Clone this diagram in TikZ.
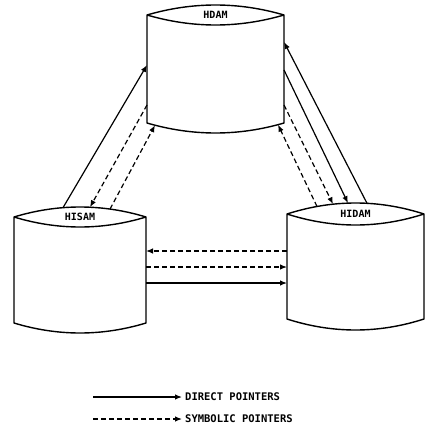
\documentclass[tikz,border=0pt]{standalone}
\usepackage{fontspec}
\usepackage{tikz}
\usetikzlibrary{arrows.meta,calc}
\newfontfamily\ptrfont{DejaVu Sans Mono}

% outline of a data base drum: lens on top, sagging bottom
% #1 node, #2 width, #3 lens half height, #4 bottom sag
\newcommand{\drawdrum}[4]{%
  \draw[drum line] (#1.north west)
    .. controls +(#2/3,-4*#3/3) and +(-#2/3,-4*#3/3) .. (#1.north east)
    .. controls +(-#2/3,4*#3/3) and +(#2/3,4*#3/3) .. (#1.north west)
    -- (#1.south west)
    .. controls +(#2/3,4*#4/3) and +(-#2/3,4*#4/3) .. (#1.south east)
    -- (#1.north east);
}

\begin{document}
\begin{tikzpicture}[
  x=1pt,
  y=-1pt,
  drum/.style={inner sep=0pt, outer sep=0pt},
  drum line/.style={line width=1.4pt, line join=round},
  drum label/.style={font=\ptrfont\bfseries\fontsize{10}{11}\selectfont,
    inner sep=0pt},
  legend text/.style={font=\ptrfont\bfseries\fontsize{10.5}{11}\selectfont,
    anchor=west, inner sep=3pt},
  ptr/.style={line width=1.2pt, -{Latex[length=7pt,width=5.5pt]}},
  sym ptr/.style={ptr, dash pattern=on 5pt off 3pt}
]
  \path[use as bounding box] (0,0) rectangle (430,431);

  % The three data bases.
  \node[drum, minimum width=137pt, minimum height=108pt] (hdam) at (215.5,69) {};
  \drawdrum{hdam}{137}{10}{10}
  \node[drum label] (hdam-label) at (hdam.north) {HDAM};

  \node[drum, minimum width=132pt, minimum height=106pt] (hisam) at (80,270) {};
  \drawdrum{hisam}{132}{10}{10}
  \node[drum label] (hisam-label) at (hisam.north) {HISAM};

  \node[drum, minimum width=137pt, minimum height=105pt] (hidam) at (355.5,266.5) {};
  \drawdrum{hidam}{137}{11}{11}
  \node[drum label] (hidam-label) at (hidam.north) {HIDAM};

  % Pointer ends on the drums.
  \coordinate (hisam-t1) at (63,207.7);
  \coordinate (hisam-t2) at (90,207.2);
  \coordinate (hisam-t3) at (110,209.1);
  \coordinate (hdam-w1) at (147,65);
  \coordinate (hdam-w2) at (147,105);
  \coordinate (hdam-b1) at (155,125.2);
  \coordinate (hdam-e1) at (284,42);
  \coordinate (hdam-e2) at (284,70);
  \coordinate (hdam-e3) at (284,105);
  \coordinate (hdam-b2) at (278,124.7);
  \coordinate (hidam-t1) at (367,203.3);
  \coordinate (hidam-t2) at (348,203.1);
  \coordinate (hidam-t3) at (333,204.2);
  \coordinate (hidam-t4) at (317,206.5);

  % HISAM -- HDAM
  \draw[ptr] (hisam-t1) -- (hdam-w1);
  \draw[sym ptr] (hdam-w2) -- (hisam-t2);
  \draw[sym ptr] (hisam-t3) -- (hdam-b1);

  % HIDAM -- HDAM
  \draw[ptr] (hidam-t1) -- (hdam-e1);
  \draw[ptr] (hdam-e2) -- (hidam-t2);
  \draw[sym ptr] (hdam-e3) -- (hidam-t3);
  \draw[sym ptr] (hidam-t4) -- (hdam-b2);

  % HISAM -- HIDAM
  \draw[sym ptr] (hidam.west |- 0,251) -- (hisam.east |- 0,251);
  \draw[sym ptr] (hisam.east |- 0,267) -- (hidam.west |- 0,267);
  \draw[ptr] (hisam.east |- 0,283) -- (hidam.west |- 0,283);

  % Legend.
  \node[legend text] (direct) at (182,397) {DIRECT POINTERS};
  \coordinate (direct-tail) at (93,397);
  \draw[ptr] (direct-tail) -- (direct.west);
  \node[legend text] (symbolic) at (182,419) {SYMBOLIC POINTERS};
  \coordinate (symbolic-tail) at (93,419);
  \draw[sym ptr] (symbolic-tail) -- (symbolic.west);
\end{tikzpicture}
\end{document}
